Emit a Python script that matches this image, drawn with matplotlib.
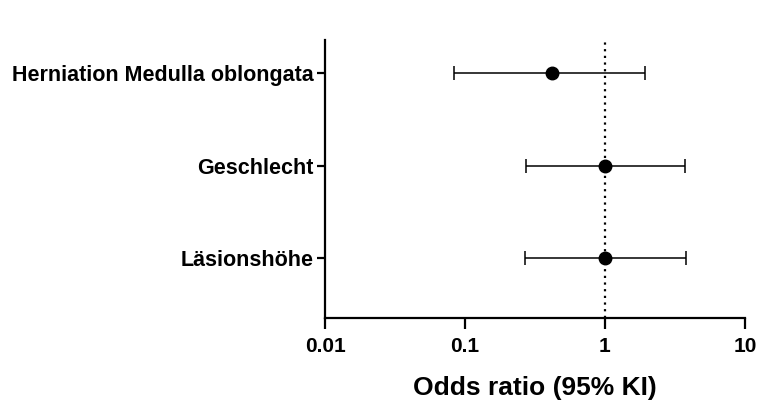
import matplotlib
matplotlib.use("Agg")
import matplotlib.pyplot as plt
import numpy as np

categories = ["Herniation Medulla oblongata", "Geschlecht", "Läsionshöhe"]
odds = [0.416, 1.0, 1.0]
lower = [0.083, 0.274, 0.270]
upper = [1.92, 3.75, 3.79]
xticks = [0.01, 0.1, 1, 10]
xticklabels = ["0.01", "0.1", "1", "10"]

plt.rcParams['font.family'] = ['Liberation Sans', 'DejaVu Sans']
plt.rcParams['font.weight'] = 'bold'

fig = plt.figure(figsize=(7.57, 4.05), dpi=100)
ax = fig.add_axes([325/757, 1-318/405, 420/757, 278/405])

ypos = np.arange(len(categories), 0, -1)
odds_a = np.array(odds)
err = [odds_a - np.array(lower), np.array(upper) - odds_a]
ax.axvline(1, color='black', linestyle=(0, (1, 2)), linewidth=1.6, zorder=1)
ax.errorbar(odds_a, ypos, xerr=err, fmt='o', color='black', markersize=9,
            elinewidth=1.1, capsize=5, capthick=1.1, zorder=3)

ax.set_xscale('log')
ax.set_xlim(0.01, 10)
ax.set_ylim(0.35, 3.36)
ax.set_xticks(xticks)
ax.set_xticklabels(xticklabels)
ax.minorticks_off()
ax.set_yticks(ypos)
ax.set_yticklabels(categories)

for s in ['top', 'right']:
    ax.spines[s].set_visible(False)
for s in ['left', 'bottom']:
    ax.spines[s].set_linewidth(1.6)
ax.tick_params(axis='x', length=8, width=1.6, labelsize=15, pad=6)
ax.tick_params(axis='y', length=6, width=1.6, labelsize=15.5, pad=2)
for lab in ax.get_xticklabels() + ax.get_yticklabels():
    lab.set_fontweight('bold')
ax.set_xlabel("Odds ratio (95% KI)", fontsize=19, fontweight='bold', labelpad=14)

fig.savefig("out.png", dpi=100)
